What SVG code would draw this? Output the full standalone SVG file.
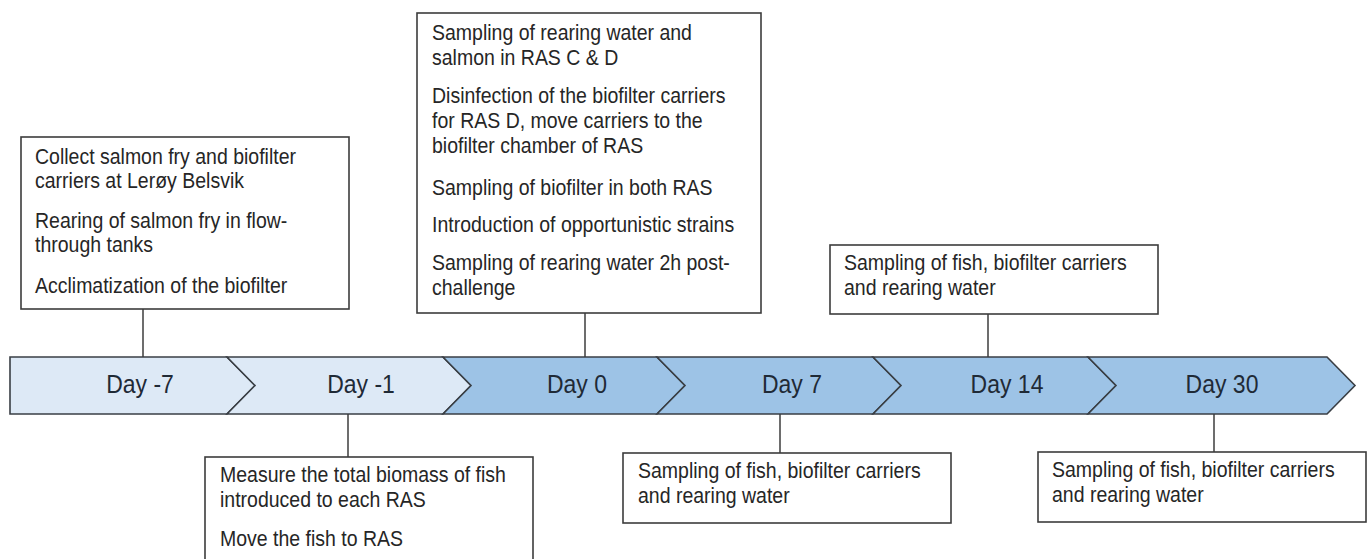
<svg xmlns="http://www.w3.org/2000/svg" width="1368" height="559" viewBox="0 0 1368 559">
  <style>
    .box { fill: #ffffff; stroke: #3c3c3c; stroke-width: 1.6; }
    .t { font-family: "Liberation Sans", Arial, sans-serif; font-size: 19.5px; fill: #262626; }
    .day { font-family: "Liberation Sans", Arial, sans-serif; font-size: 23px; fill: #1f2a36; text-anchor: middle; }
    .light { fill: #dde9f6; stroke: #3a3f45; stroke-width: 1.6; stroke-linejoin: miter; }
    .dark { fill: #9dc3e6; stroke: #3a3f45; stroke-width: 1.6; stroke-linejoin: miter; }
    .conn { stroke: #3c3c3c; stroke-width: 1.5; fill: none; }
  </style>
  <rect x="0" y="0" width="1368" height="559" fill="#ffffff"/>

  <g id="timeline">
    <g id="day-m7">
      <polygon class="light" points="10,357 227,357 255,385.5 227,414 10,414"/>
      <text class="day" transform="matrix(1 0 0 1.15 140 393)">Day -7</text>
    </g>
    <g id="day-m1">
      <polygon class="light" points="227,357 443,357 471,385.5 443,414 227,414 255,385.5"/>
      <text class="day" transform="matrix(1 0 0 1.15 361 393)">Day -1</text>
    </g>
    <g id="day-0">
      <polygon class="dark" points="443,357 657,357 685,385.5 657,414 443,414 471,385.5"/>
      <text class="day" transform="matrix(1 0 0 1.15 577 393)">Day 0</text>
    </g>
    <g id="day-7">
      <polygon class="dark" points="657,357 873,357 901,385.5 873,414 657,414 685,385.5"/>
      <text class="day" transform="matrix(1 0 0 1.15 792 393)">Day 7</text>
    </g>
    <g id="day-14">
      <polygon class="dark" points="873,357 1088,357 1116,385.5 1088,414 873,414 901,385.5"/>
      <text class="day" transform="matrix(1 0 0 1.15 1007 393)">Day 14</text>
    </g>
    <g id="day-30">
      <polygon class="dark" points="1088,357 1327,357 1355,385.5 1327,414 1088,414 1116,385.5"/>
      <text class="day" transform="matrix(1 0 0 1.15 1222 393)">Day 30</text>
    </g>
  </g>

  <g id="connectors">
    <line class="conn" x1="143" y1="309" x2="143" y2="357"/>
    <line class="conn" x1="585" y1="313" x2="585" y2="357"/>
    <line class="conn" x1="988" y1="314" x2="988" y2="357"/>
    <line class="conn" x1="348" y1="414" x2="348" y2="457"/>
    <line class="conn" x1="780" y1="414" x2="780" y2="453"/>
    <line class="conn" x1="1214" y1="414" x2="1214" y2="452"/>
  </g>

  <g id="box-day-m7">
    <rect class="box" x="21" y="137" width="328" height="172"/>
    <text class="t" transform="matrix(1 0 0 1.12 35 164)">Collect salmon fry and biofilter</text>
    <text class="t" transform="matrix(1 0 0 1.12 35 188)">carriers at Lerøy Belsvik</text>
    <text class="t" transform="matrix(1 0 0 1.12 35 228)">Rearing of salmon fry in flow-</text>
    <text class="t" transform="matrix(1 0 0 1.12 35 252)">through tanks</text>
    <text class="t" transform="matrix(1 0 0 1.12 35 293)">Acclimatization of the biofilter</text>
  </g>

  <g id="box-day-0">
    <rect class="box" x="417" y="13" width="344" height="300"/>
    <text class="t" transform="matrix(1 0 0 1.12 432 40)">Sampling of rearing water and</text>
    <text class="t" transform="matrix(1 0 0 1.12 432 65)">salmon in RAS C &amp; D</text>
    <text class="t" transform="matrix(1 0 0 1.12 432 103)">Disinfection of the biofilter carriers</text>
    <text class="t" transform="matrix(1 0 0 1.12 432 128)">for RAS D, move carriers to the</text>
    <text class="t" transform="matrix(1 0 0 1.12 432 153)">biofilter chamber of RAS</text>
    <text class="t" transform="matrix(1 0 0 1.12 432 195)">Sampling of biofilter in both RAS</text>
    <text class="t" transform="matrix(1 0 0 1.12 432 232)">Introduction of opportunistic strains</text>
    <text class="t" transform="matrix(1 0 0 1.12 432 270)">Sampling of rearing water 2h post-</text>
    <text class="t" transform="matrix(1 0 0 1.12 432 295)">challenge</text>
  </g>

  <g id="box-day-14">
    <rect class="box" x="830" y="245" width="328" height="69"/>
    <text class="t" transform="matrix(1 0 0 1.12 844 270)">Sampling of fish, biofilter carriers</text>
    <text class="t" transform="matrix(1 0 0 1.12 844 295)">and rearing water</text>
  </g>

  <g id="box-day-m1">
    <rect class="box" x="205" y="457" width="328" height="110"/>
    <text class="t" transform="matrix(1 0 0 1.12 220 482)">Measure the total biomass of fish</text>
    <text class="t" transform="matrix(1 0 0 1.12 220 507)">introduced to each RAS</text>
    <text class="t" transform="matrix(1 0 0 1.12 220 546)">Move the fish to RAS</text>
  </g>

  <g id="box-day-7">
    <rect class="box" x="623" y="453" width="328" height="70"/>
    <text class="t" transform="matrix(1 0 0 1.12 638 478)">Sampling of fish, biofilter carriers</text>
    <text class="t" transform="matrix(1 0 0 1.12 638 503)">and rearing water</text>
  </g>

  <g id="box-day-30">
    <rect class="box" x="1038" y="452" width="328" height="70"/>
    <text class="t" transform="matrix(1 0 0 1.12 1052 477)">Sampling of fish, biofilter carriers</text>
    <text class="t" transform="matrix(1 0 0 1.12 1052 502)">and rearing water</text>
  </g>
</svg>
